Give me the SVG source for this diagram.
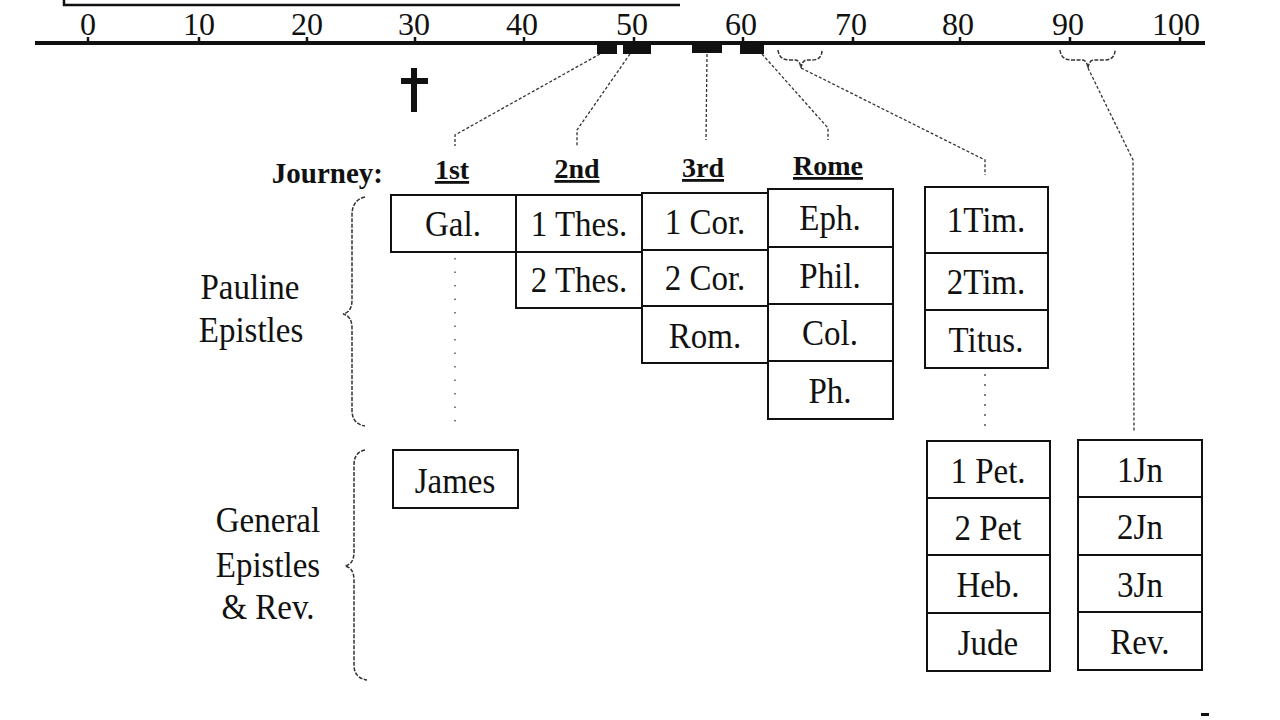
<svg xmlns="http://www.w3.org/2000/svg" width="1280" height="720" viewBox="0 0 1280 720">
<style>
.bg{fill:#fff}
.t{font-family:"Liberation Serif","Times New Roman",serif;fill:#111}
.num{font-size:32px;text-anchor:middle}
.jr{font-size:29px;font-weight:bold}
.hd{font-size:28px;font-weight:bold;text-anchor:middle;text-decoration:underline}
.bx{font-size:33px;text-anchor:middle;transform-box:fill-box;transform-origin:center;transform:scaleY(1.1)}
.lb{font-size:33px;text-anchor:middle;transform-box:fill-box;transform-origin:center;transform:scaleY(1.08)}
.cell{fill:#fff;stroke:#111;stroke-width:2}
.axis{stroke:#111;stroke-width:4;fill:none}
.tick{stroke:#111;stroke-width:2.5}
.bar{fill:#111}
.con{stroke:#333;stroke-width:1.3;stroke-dasharray:3 2;fill:none}
.dots{stroke:#555;stroke-width:1.5;stroke-dasharray:1.5 12;fill:none}
.brace{stroke:#333;stroke-width:1.5;stroke-dasharray:4 1.5;fill:none}
</style>
<rect class="bg" x="0" y="0" width="1280" height="720"/>

<g id="timeline">
  <path class="axis" d="M64,0 L64,5 L680,5" style="stroke-width:2.5"/>
  <line class="axis" x1="35" y1="43" x2="1205" y2="43"/>
  <g class="tick">
    <line x1="88" y1="37" x2="88" y2="43"/>
    <line x1="199" y1="37" x2="199" y2="43"/>
    <line x1="307" y1="37" x2="307" y2="43"/>
    <line x1="415" y1="37" x2="415" y2="43"/>
    <line x1="524" y1="37" x2="524" y2="43"/>
    <line x1="634" y1="37" x2="634" y2="43"/>
    <line x1="743" y1="37" x2="743" y2="43"/>
    <line x1="853" y1="37" x2="853" y2="43"/>
    <line x1="960" y1="37" x2="960" y2="43"/>
    <line x1="1070" y1="37" x2="1070" y2="43"/>
    <line x1="1180" y1="37" x2="1180" y2="43"/>
  </g>
  <g class="t num">
    <text x="88" y="35">0</text>
    <text x="199" y="35">10</text>
    <text x="307" y="35">20</text>
    <text x="414" y="35">30</text>
    <text x="522" y="35">40</text>
    <text x="632" y="35">50</text>
    <text x="741" y="35">60</text>
    <text x="851" y="35">70</text>
    <text x="958" y="35">80</text>
    <text x="1068" y="35">90</text>
    <text x="1176" y="35">100</text>
  </g>
  <rect class="bar" x="597" y="43" width="20" height="11"/>
  <rect class="bar" x="623" y="43" width="28" height="11"/>
  <rect class="bar" x="692" y="43" width="30" height="10"/>
  <rect class="bar" x="740" y="43" width="24" height="11"/>
  <path class="brace" d="M778,50 Q779,60 790,60 L796,60 Q800,61 801,68 Q802,61 806,60 L812,60 Q822,60 822,50"/>
  <path class="brace" d="M1060,50 Q1061,60 1072,60 L1083,60 Q1087,61 1088,68 Q1089,61 1093,60 L1104,60 Q1115,60 1115,50"/>
  <path d="M414,68 L414,112 M401,81 L428,81" stroke="#111" stroke-width="6" fill="none"/>
</g>

<g id="connectors">
  <path class="con" d="M600,54 L455,135 L455,146"/>
  <path class="con" d="M630,54 L577,130 L577,146"/>
  <path class="con" d="M707,54 L706,140"/>
  <path class="con" d="M762,54 L828,128 L828,140"/>
  <path class="con" d="M801,68 L985,160 L985,175"/>
  <path class="con" d="M1088,68 L1133,160 L1134,432"/>
  <path class="dots" d="M455,258 L455,432"/>
  <path class="dots" d="M985,374 L985,432" style="stroke-dasharray:2 8"/>
</g>

<g id="journey-labels" class="t">
  <text class="jr" x="383" y="183" text-anchor="end">Journey:</text>
  <text class="hd" x="452" y="179">1st</text>
  <text class="hd" x="577" y="178">2nd</text>
  <text class="hd" x="703" y="177">3rd</text>
  <text class="hd" x="828" y="175">Rome</text>
</g>

<g id="group-pauline" class="t">
  <path class="brace" d="M365,197 Q352,200 352,215 L352,300 Q352,312 343,314 Q352,316 352,328 L352,410 Q352,424 365,426"/>
  <text class="lb" x="250" y="298">Pauline</text>
  <text class="lb" x="251" y="341">Epistles</text>
</g>

<g id="group-general" class="t">
  <path class="brace" d="M365,450 Q354,452 354,465 L354,552 Q354,564 345,566 Q354,568 354,580 L354,665 Q354,678 367,680"/>
  <text class="lb" x="268" y="531">General</text>
  <text class="lb" x="268" y="576">Epistles</text>
  <text class="lb" x="268" y="618">&amp; Rev.</text>
</g>

<g id="gal" class="t"><rect class="cell" x="391" y="195" width="125" height="57"/><text class="bx" x="453" y="235">Gal.</text></g>
<g id="thes1" class="t"><rect class="cell" x="516" y="195" width="126" height="57"/><text class="bx" x="579" y="235">1 Thes.</text></g>
<g id="thes2" class="t"><rect class="cell" x="516" y="252" width="126" height="56"/><text class="bx" x="579" y="291">2 Thes.</text></g>
<g id="cor1" class="t"><rect class="cell" x="642" y="193" width="126" height="57"/><text class="bx" x="705" y="233">1 Cor.</text></g>
<g id="cor2" class="t"><rect class="cell" x="642" y="250" width="126" height="56"/><text class="bx" x="705" y="289">2 Cor.</text></g>
<g id="rom" class="t"><rect class="cell" x="642" y="306" width="126" height="57"/><text class="bx" x="705" y="347">Rom.</text></g>
<g id="eph" class="t"><rect class="cell" x="768" y="189" width="125" height="58"/><text class="bx" x="830" y="229">Eph.</text></g>
<g id="phil" class="t"><rect class="cell" x="768" y="247" width="125" height="57"/><text class="bx" x="830" y="287">Phil.</text></g>
<g id="col" class="t"><rect class="cell" x="768" y="304" width="125" height="57"/><text class="bx" x="830" y="344">Col.</text></g>
<g id="ph" class="t"><rect class="cell" x="768" y="361" width="125" height="58"/><text class="bx" x="830" y="402">Ph.</text></g>

<g id="tim1" class="t"><rect class="cell" x="925" y="187" width="123" height="66"/><text class="bx" x="986" y="231">1Tim.</text></g>
<g id="tim2" class="t"><rect class="cell" x="925" y="253" width="123" height="57"/><text class="bx" x="986" y="293">2Tim.</text></g>
<g id="titus" class="t"><rect class="cell" x="925" y="310" width="123" height="58"/><text class="bx" x="986" y="351">Titus.</text></g>

<g id="james" class="t"><rect class="cell" x="393" y="450" width="125" height="58"/><text class="bx" x="455" y="492">James</text></g>

<g id="pet1" class="t"><rect class="cell" x="927" y="441" width="123" height="57"/><text class="bx" x="988" y="482">1 Pet.</text></g>
<g id="pet2" class="t"><rect class="cell" x="927" y="498" width="123" height="57"/><text class="bx" x="988" y="539">2 Pet</text></g>
<g id="heb" class="t"><rect class="cell" x="927" y="555" width="123" height="58"/><text class="bx" x="988" y="596">Heb.</text></g>
<g id="jude" class="t"><rect class="cell" x="927" y="613" width="123" height="58"/><text class="bx" x="988" y="654">Jude</text></g>

<g id="jn1" class="t"><rect class="cell" x="1078" y="440" width="124" height="57"/><text class="bx" x="1140" y="481">1Jn</text></g>
<g id="jn2" class="t"><rect class="cell" x="1078" y="497" width="124" height="58"/><text class="bx" x="1140" y="538">2Jn</text></g>
<g id="jn3" class="t"><rect class="cell" x="1078" y="555" width="124" height="57"/><text class="bx" x="1140" y="596">3Jn</text></g>
<g id="rev" class="t"><rect class="cell" x="1078" y="612" width="124" height="58"/><text class="bx" x="1140" y="653">Rev.</text></g>

<rect x="1201" y="713" width="8" height="3" fill="#111"/>
</svg>
